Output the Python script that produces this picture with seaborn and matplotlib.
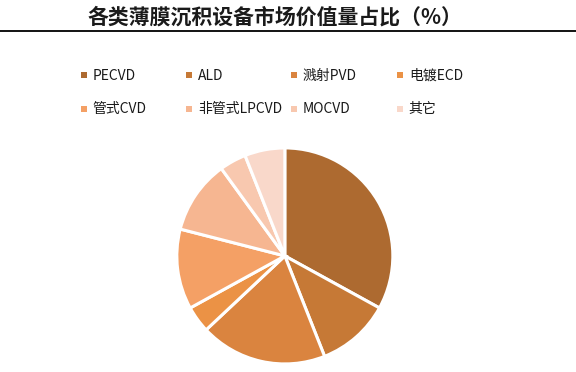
import matplotlib
matplotlib.use('Agg')
import matplotlib.pyplot as plt
from matplotlib.lines import Line2D
import seaborn as sns

# market value share of thin-film deposition equipment (%)
categories = ['PECVD', 'ALD', '溅射PVD', '电镀ECD',
              '管式CVD', '非管式LPCVD', 'MOCVD', '其它']
shares = [33, 11, 19, 4, 12, 11, 4, 6]
colors = ['#AD6A30', '#C67936', '#DA843F', '#EB9245',
          '#F4A065', '#F6B691', '#F8C8AF', '#F9D8CA']
title = '各类薄膜沉积设备市场价值量占比（%）'

sns.set_theme(style='white')
plt.rcParams['font.family'] = ['Noto Sans CJK SC', 'DejaVu Sans']

fig = plt.figure(figsize=(5.76, 3.72), dpi=100)

# pie area
ax = fig.add_axes([0.307, 0.0215, 0.375, 0.581])
wedges, _ = ax.pie(
    shares,
    colors=colors,
    startangle=90,
    counterclock=False,
    radius=1.0,
    wedgeprops=dict(edgecolor='white', linewidth=2.2),
)
ax.set_xlim(-1, 1)
ax.set_ylim(-1, 1)
ax.set_aspect('equal')
ax.axis('off')

# title and rule under it
fig.text(0.478, 0.955, title, ha='center', va='center',
         fontsize=15, fontweight='bold', color='#1a1a1a')
fig.add_artist(Line2D([0, 1], [0.917, 0.917], transform=fig.transFigure,
                      color='black', linewidth=1.3))

# legend, one small legend per column so columns stay evenly spaced
col_x = [81, 186, 291, 397]
for i, x in enumerate(col_x):
    idx = [i, i + 4]
    handles = [Line2D([], [], marker='s', linestyle='none', markersize=4,
                      markerfacecolor=colors[j], markeredgewidth=0)
               for j in idx]
    leg = fig.legend(
        handles, [categories[j] for j in idx],
        loc='upper left',
        bbox_to_anchor=(x / 576, 1 - 69 / 372),
        frameon=False,
        fontsize=10,
        handlelength=0.4,
        handletextpad=0.45,
        labelspacing=1.4,
        borderpad=0,
        borderaxespad=0,
    )
    for t in leg.get_texts():
        t.set_color('#1a1a1a')

fig.savefig('out.png', dpi=100)
